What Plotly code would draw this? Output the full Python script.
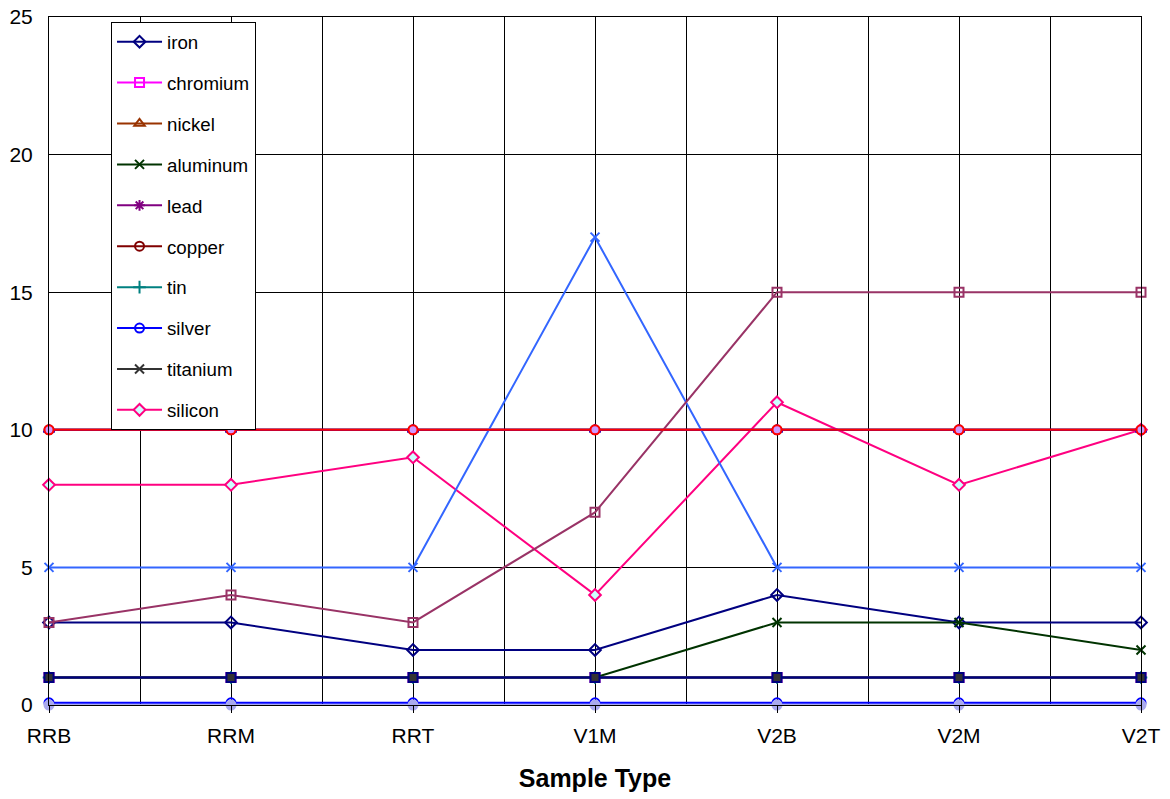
import plotly.graph_objects as go

categories = ["RRB", "RRM", "RRT", "V1M", "V2B", "V2M", "V2T"]

iron = [3, 3, 2, 2, 4, 3, 3]
chromium = [1, 1, 1, 1, 1, 1, 1]
nickel = [10, 10, 10, 10, 10, 10, 10]
aluminum = [1, 1, 1, 1, 3, 3, 2]
lead = [1, 1, 1, 1, 1, 1, 1]
copper = [10, 10, 10, 10, 10, 10, 10]
tin = [1, 1, 1, 1, 1, 1, 1]
silver = [0.08, 0.08, 0.08, 0.08, 0.08, 0.08, 0.08]
titanium = [1, 1, 1, 1, 1, 1, 1]
silicon = [8, 8, 9, 4, 11, 8, 10]
# series beyond the visible (clipped) legend
extra_a = [0, 0, 0, 0, 0, 0, 0]
extra_b = [10, 10, 10, 10, 10, 10, 10]
extra_c = [5, 5, 5, 17, 5, 5, 5]
extra_d = [3, 4, 3, 7, 15, 15, 15]
extra_e = [10, 10, 10, 10, 10, 10, 10]
extra_f = [1, 1, 1, 1, 1, 1, 1]

y_ticks = [0, 5, 10, 15, 20, 25]

xs = list(range(len(categories)))

series = [
    ("iron", iron, "#000080", "diamond-open", "#000080", True),
    ("chromium", chromium, "#FF00FF", "square-open", "#FF00FF", True),
    ("nickel", nickel, "#993300", "triangle-up-open", "#993300", True),
    ("aluminum", aluminum, "#003300", "x-thin-open", "#003300", True),
    ("lead", lead, "#800080", "asterisk-open", "#800080", True),
    ("copper", copper, "#800000", "circle-open", "#800000", True),
    ("tin", tin, "#008080", "cross-thin-open", "#008080", True),
    ("silver", silver, "#0000FF", "circle-open", "#0000FF", True),
    ("titanium", titanium, "#333333", "x-thin-open", "#333333", True),
    ("silicon", silicon, "#FF0080", "diamond", "#CCFFFF", True),
    ("s11", extra_a, "#AAAAEE", "circle", "#AAAAEE", False),
    ("s12", extra_b, "#0000FF", "triangle-up", "#0000FF", False),
    ("s13", extra_c, "#3366FF", "x-thin-open", "#3366FF", False),
    ("s14", extra_d, "#993366", "square-open", "#993366", False),
    ("s15", extra_e, "#FF0000", "circle", "#CC99FF", False),
    ("s16", extra_f, "#000080", "square", "#333333", False),
]

fig = go.Figure()
for i, (name, vals, col, sym, fill, show) in enumerate(series):
    if sym.endswith("-open"):
        marker = dict(symbol=sym, size=9, color=col, line=dict(color=col, width=2))
    else:
        marker = dict(symbol=sym, size=9, color=fill, line=dict(color=col, width=2))
    fig.add_trace(go.Scatter(
        x=xs, y=vals, name=name, mode="lines+markers",
        line=dict(color=col, width=2),
        marker=marker,
        showlegend=show, legendgroup=name,
        cliponaxis=False,
    ))

fig.update_layout(
    width=1170, height=799,
    margin=dict(l=49, r=29, t=17, b=94),
    paper_bgcolor="white", plot_bgcolor="white",
    font=dict(family="Arial, Liberation Sans, sans-serif", size=21, color="black"),
    legend=dict(
        x=0.0568, y=0.9927, xanchor="left", yanchor="top",
        bgcolor="white", bordercolor="black", borderwidth=1,
        font=dict(size=18.7), tracegroupgap=13.6, itemwidth=45,
    ),
    xaxis=dict(
        range=[0, 6], tickmode="array", tickvals=xs, ticktext=categories,
        showgrid=True, gridcolor="black", gridwidth=1,
        minor=dict(dtick=0.5, showgrid=True, gridcolor="black", gridwidth=1),
        showline=True, linecolor="black", linewidth=1, mirror=True,
        ticks="outside", ticklen=7, tickcolor="black", ticklabelstandoff=5,
        zeroline=False, automargin=False,
        title=dict(text="<b>Sample Type</b>", font=dict(size=25), standoff=23),
    ),
    yaxis=dict(
        range=[0, 25], tickmode="array", tickvals=y_ticks,
        showgrid=True, gridcolor="black", gridwidth=1,
        showline=True, linecolor="black", linewidth=1, mirror=True,
        ticks="", zeroline=False, ticklabelstandoff=11, automargin=False,
    ),
)

# remove the default page margin so the figure sits at the window origin
fig.write_html(
    "out.html",
    config={"displayModeBar": False},
    post_script="document.body.style.margin='0';document.body.style.overflow='hidden';",
)
